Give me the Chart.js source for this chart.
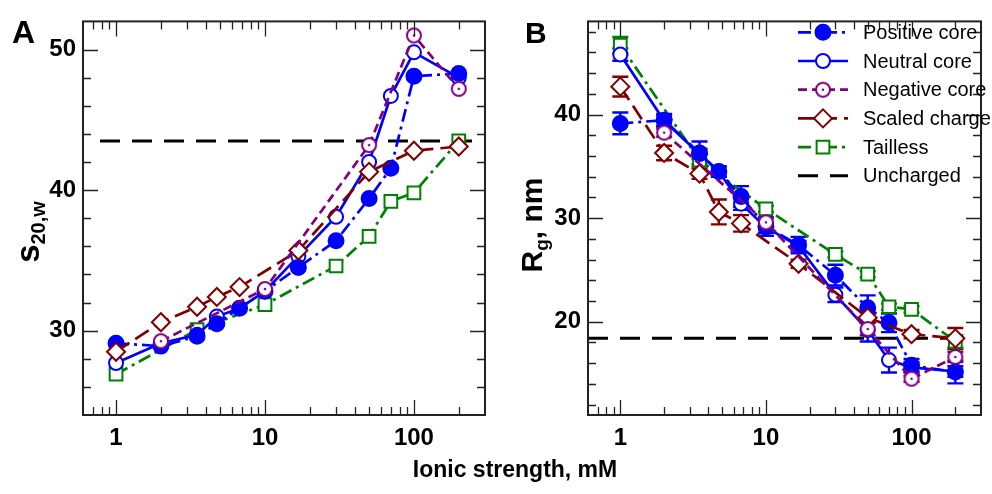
<!DOCTYPE html>
<html>
<head>
<meta charset="utf-8">
<script src="https://cdn.jsdelivr.net/npm/chart.js@4.4.1/dist/chart.umd.min.js"></script>
<style>
  body { margin: 0; background: #fff; font-family: 'Liberation Sans', Arial, sans-serif; }
  #wrap { position: relative; width: 992px; height: 494px; overflow: hidden; }
  canvas { position: absolute; top: 0; }
  .lbl { position: absolute; font-weight: bold; color: #000; line-height: 1; white-space: nowrap; }
  .rot { transform: translate(-50%, -50%) rotate(-90deg); }
  .lbl sub { vertical-align: -0.3em; line-height: 0; }
</style>
</head>
<body>
<div id="wrap">
  <canvas id="chartA" width="496" height="494" style="left:0"></canvas>
  <canvas id="chartB" width="496" height="494" style="left:496px"></canvas>
  <div class="lbl" style="left:12px;top:16px;font-size:32px">A</div>
  <div class="lbl" style="left:525px;top:18px;font-size:30px">B</div>
  <div class="lbl rot" style="left:27px;top:232px;font-size:33px">s<sub style="font-size:20px">20,w</sub></div>
  <div class="lbl rot" style="left:532px;top:225px;font-size:30px">R<sub style="font-size:19px">g</sub>, nm</div>
  <div class="lbl" style="left:515px;top:458px;font-size:23px;transform:translateX(-50%)">Ionic strength, mM</div>
</div>
<script>
// ionic strength, mM
const ionic = [1, 2, 3.5, 4.75, 6.75, 10, 16.75, 30, 50, 70, 100, 200];

// panel A: sedimentation coefficient s20,w
const sPositive = [29.1, 28.9, 29.6, 30.5, 31.6, 32.8, 34.5, 36.4, 39.4, 41.55, 48.1, 48.3];
const sNeutral  = [27.7, 29.1, 29.7, 31.0, 31.6, 32.8, 35.3, 38.1, 42.0, 46.7, 49.8, 48.0];
const sNegative = [null, 29.25, null, null, null, 32.96, null, null, 43.2, null, 51.0, 47.2];
const sScaled   = [28.5, 30.6, 31.7, 32.4, 33.1, null, 35.7, null, 41.3, null, 42.8, 43.1];
const sTailless = [26.9, null, 30.07, null, null, 31.85, null, 34.6, 36.7, 39.2, 39.8, 43.5];
const sUnchargedX = [0.78, 250];
const sUncharged  = [43.5, 43.5];

// panel B: radius of gyration Rg, nm (with error bars)
const rPositive = [39.15, 39.46, 36.3, 34.5, 32.1, 29.2, 27.4, 24.5, 21.35, 19.9, 15.8, 15.15];
const rPositiveErr = [1.05, 0.6, 1.1, 0.5, 1.0, 0.9, 0.8, 1.0, 1.2, 0.9, 0.6, 1.1];
const rNeutral  = [45.8, 39.4, 36.2, 34.5, 31.4, 29.1, 27.3, 22.6, 19.2, 16.3, 15.6, 15.2];
const rNeutralErr = [0.6, 0.5, 0.5, 0.5, 0.6, 0.5, 0.5, 0.7, 1.1, 1.2, 0.5, 0.5];
const rNegative = [null, 38.26, null, null, null, 29.6, null, null, 19.3, null, 14.5, 16.6];
const rNegativeErr = [0, 0.4, 0, 0, 0, 0.4, 0, 0, 0.6, 0, 0.3, 0.5];
const rScaled   = [42.7, 36.3, 34.3, 30.6, 29.5, null, 25.6, null, 20.4, null, 18.8, 18.4];
const rScaledErr = [0.95, 0.7, 0.5, 1.2, 0.8, 0, 0.4, 0, 0.5, 0, 0.4, 1.0];
const rTailless = [46.7, null, 35.6, null, null, 30.9, null, 26.5, 24.6, 21.45, 21.2, 18.1];
const rTaillessErr = [0.8, 0, 0.6, 0, 0, 0.3, 0, 0.3, 0.3, 0.3, 0.3, 0.6];
const rUnchargedX = [0.6, 260];
const rUncharged  = [18.4, 18.4];

const seriesNames = ['Positive core', 'Neutral core', 'Negative core', 'Scaled charge', 'Tailless', 'Uncharged'];
const xMajorLabels = [1, 10, 100];

const BLUE = '#0000ff', PURPLE = '#800080', DKRED = '#800000', GREEN = '#008000';

Chart.defaults.font.family = "'Liberation Sans', Arial, sans-serif";
Chart.defaults.color = '#000';

// open circle with a dot in the middle
function ringDot() {
  const c = document.createElement('canvas');
  c.width = 18; c.height = 18;
  const g = c.getContext('2d');
  g.fillStyle = '#fff'; g.strokeStyle = PURPLE; g.lineWidth = 2;
  g.beginPath(); g.arc(9, 9, 7, 0, Math.PI * 2); g.fill(); g.stroke();
  g.fillStyle = PURPLE;
  g.beginPath(); g.arc(9, 9, 1.3, 0, Math.PI * 2); g.fill();
  return c;
}
const ringImg = ringDot();

const styles = [
  { color: BLUE,   dash: [13, 5, 3, 5], pointStyle: 'circle',  radius: 7.5, fill: BLUE,   order: 3 },
  { color: BLUE,   dash: [],            pointStyle: 'circle',  radius: 7,   fill: '#fff', order: 4 },
  { color: PURPLE, dash: [9, 5],        pointStyle: ringImg,   radius: 7,   fill: '#fff', order: 1 },
  { color: DKRED,  dash: [16, 7],       pointStyle: 'rectRot', radius: 9,   fill: '#fff', order: 2 },
  { color: GREEN,  dash: [13, 5, 3, 5], pointStyle: 'rect',    radius: 9,   fill: '#fff', order: 5 },
  { color: '#000', dash: [20, 12],      pointStyle: false,     radius: 0,   fill: '#000', order: 6 }
];

function pts(xs, ys) { return xs.map((x, i) => ({ x: x, y: ys[i] })); }

function makeDatasets(values, errors, unchX, unch) {
  return seriesNames.map((name, i) => {
    const s = styles[i];
    const last = i === seriesNames.length - 1;
    return {
      label: name,
      data: last ? pts(unchX, unch) : pts(ionic, values[i]),
      errors: errors ? errors[i] : null,
      borderColor: s.color,
      borderWidth: last ? 3 : 2.7,
      borderDash: s.dash,
      pointStyle: s.pointStyle,
      pointRadius: s.radius,
      pointBackgroundColor: s.fill,
      pointBorderColor: s.color,
      pointBorderWidth: 2,
      spanGaps: true,
      tension: 0,
      order: s.order
    };
  });
}

function isDecade(v) { return Math.abs(Math.log10(v) - Math.round(Math.log10(v))) < 1e-6; }

const xTickVals = [];
[0.1, 1, 10, 100].forEach(d => { for (let k = 1; k < 10; k++) xTickVals.push(k * d); });
const yTickVals = [];
for (let v = 10; v <= 60; v += 2) yTickVals.push(v);

// frame and inward ticks on all four sides
const framePlugin = {
  id: 'frame',
  afterDraw(chart) {
    const { ctx, chartArea: a } = chart;
    const x = chart.scales.x, y = chart.scales.y;
    ctx.save();
    ctx.setLineDash([]);
    ctx.strokeStyle = '#222';
    ctx.lineWidth = 1.3;
    ctx.beginPath();
    x.ticks.forEach(t => {
      const px = Math.round(x.getPixelForValue(t.value)) + 0.5;
      if (px < a.left + 1 || px > a.right - 1) return;
      const len = isDecade(t.value) ? 15 : 8;
      ctx.moveTo(px, a.bottom); ctx.lineTo(px, a.bottom - len);
      ctx.moveTo(px, a.top); ctx.lineTo(px, a.top + len);
    });
    y.ticks.forEach(t => {
      const py = Math.round(y.getPixelForValue(t.value)) + 0.5;
      if (py < a.top + 1 || py > a.bottom - 1) return;
      const len = t.value % 10 === 0 ? 15 : 8;
      ctx.moveTo(a.left, py); ctx.lineTo(a.left + len, py);
      ctx.moveTo(a.right, py); ctx.lineTo(a.right - len, py);
    });
    ctx.stroke();
    ctx.lineWidth = 2;
    ctx.strokeRect(a.left, a.top, a.right - a.left, a.bottom - a.top);
    ctx.restore();
  }
};

const errorBars = {
  id: 'errorBars',
  beforeDatasetsDraw(chart) {
    const { ctx } = chart;
    const x = chart.scales.x, y = chart.scales.y;
    chart.data.datasets.forEach(ds => {
      if (!ds.errors) return;
      ctx.save();
      ctx.setLineDash([]);
      ctx.strokeStyle = ds.borderColor;
      ctx.lineWidth = 2.4;
      ctx.beginPath();
      ds.data.forEach((p, i) => {
        const e = ds.errors[i];
        if (p.y == null || !e) return;
        const px = x.getPixelForValue(p.x);
        const y1 = y.getPixelForValue(p.y + e), y2 = y.getPixelForValue(p.y - e);
        ctx.moveTo(px, y1); ctx.lineTo(px, y2);
        ctx.moveTo(px - 8, y1); ctx.lineTo(px + 8, y1);
        ctx.moveTo(px - 8, y2); ctx.lineTo(px + 8, y2);
      });
      ctx.stroke();
      ctx.restore();
    });
  }
};

function drawMarker(ctx, ds, cx, cy) {
  const st = ds.pointStyle;
  if (!st) return;
  if (typeof st !== 'string') { ctx.drawImage(st, cx - st.width / 2, cy - st.height / 2); return; }
  const r = ds.pointRadius;
  ctx.setLineDash([]);
  ctx.fillStyle = ds.pointBackgroundColor;
  ctx.strokeStyle = ds.pointBorderColor;
  ctx.lineWidth = ds.pointBorderWidth;
  ctx.beginPath();
  if (st === 'circle') ctx.arc(cx, cy, r, 0, Math.PI * 2);
  else if (st === 'rectRot') { ctx.moveTo(cx - r, cy); ctx.lineTo(cx, cy - r); ctx.lineTo(cx + r, cy); ctx.lineTo(cx, cy + r); ctx.closePath(); }
  else if (st === 'rect') { const h = r * Math.SQRT1_2; ctx.rect(cx - h, cy - h, 2 * h, 2 * h); }
  ctx.fill(); ctx.stroke();
}

const legendPlugin = {
  id: 'lineLegend',
  afterDraw(chart, args, opts) {
    if (!opts.show) return;
    const ctx = chart.ctx;
    ctx.save();
    chart.data.datasets.forEach((ds, i) => {
      const yy = opts.top + i * opts.rowH;
      ctx.setLineDash(ds.borderDash);
      ctx.strokeStyle = ds.borderColor;
      ctx.lineWidth = ds.borderWidth;
      ctx.beginPath(); ctx.moveTo(opts.x0, yy); ctx.lineTo(opts.x0 + 50, yy); ctx.stroke();
      drawMarker(ctx, ds, opts.x0 + 25, yy);
      ctx.fillStyle = '#000';
      ctx.font = "20px 'Liberation Sans', Arial, sans-serif";
      ctx.textBaseline = 'middle';
      ctx.fillText(ds.label, opts.x0 + 65, yy + 1);
    });
    ctx.restore();
  }
};

function makeChart(id, datasets, yMin, yMax, yAxisW, padRight, legend) {
  return new Chart(document.getElementById(id), {
    type: 'line',
    data: { datasets: datasets },
    plugins: [errorBars, framePlugin, legendPlugin],
    options: {
      responsive: false,
      animation: false,
      devicePixelRatio: 1,
      layout: { padding: { top: 14, right: padRight, bottom: 0, left: 0 } },
      plugins: {
        legend: { display: false },
        tooltip: { enabled: false },
        lineLegend: legend
      },
      scales: {
        x: {
          type: 'logarithmic',
          min: 0.6, max: 300,
          grid: { display: false, drawTicks: false },
          border: { display: false },
          afterBuildTicks: s => { s.ticks = xTickVals.filter(v => v >= s.min && v <= s.max).map(v => ({ value: v })); },
          afterFit: s => { s.height = 79; },
          ticks: {
            autoSkip: false, maxRotation: 0, padding: 9,
            font: { size: 24, weight: 'bold' },
            callback: v => (xMajorLabels.includes(v) ? String(v) : '')
          }
        },
        y: {
          min: yMin, max: yMax,
          grid: { display: false, drawTicks: false },
          border: { display: false },
          afterBuildTicks: s => { s.ticks = yTickVals.filter(v => v > s.min && v < s.max).map(v => ({ value: v })); },
          afterFit: s => { s.width = yAxisW; },
          ticks: {
            autoSkip: false, padding: 7,
            font: { size: 24, weight: 'bold' },
            callback: v => (v % 10 === 0 ? String(v) : '')
          }
        }
      }
    }
  });
}

makeChart('chartA',
  makeDatasets([sPositive, sNeutral, sNegative, sScaled, sTailless], null, sUnchargedX, sUncharged),
  24, 52, 83, 11, { show: false });

makeChart('chartB',
  makeDatasets([rPositive, rNeutral, rNegative, rScaled, rTailless],
    [rPositiveErr, rNeutralErr, rNegativeErr, rScaledErr, rTaillessErr], rUnchargedX, rUncharged),
  11, 49, 92, 1, { show: true, x0: 302, top: 32.3, rowH: 28.7 });
</script>
</body>
</html>
